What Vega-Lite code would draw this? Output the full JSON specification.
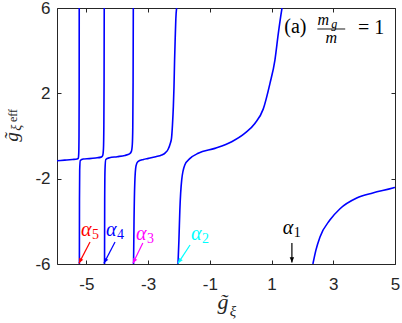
{
  "$schema": "https://vega.github.io/schema/vega-lite/v6.json",
  "width": 338,
  "height": 256,
  "autosize": {"type": "none"},
  "padding": {"left": 57, "top": 8, "right": 7, "bottom": 59},
  "background": "white",
  "config": {
    "view": {"stroke": "#262626", "strokeWidth": 1},
    "axis": {
      "domain": false,
      "grid": false,
      "tickColor": "#262626",
      "tickSize": -4,
      "tickWidth": 1,
      "labelFont": "Liberation Sans",
      "labelFontSize": 17,
      "labelColor": "#262626",
      "labelFlush": false,
      "labelOverlap": false,
      "title": null
    }
  },
  "datasets": {
    "curves": [
      {"b": "A", "x": -5.95, "y": -1.16}, {"b": "A", "x": -5.7, "y": -1.13}, {"b": "A", "x": -5.45, "y": -1.1}, {"b": "A", "x": -5.3, "y": -1.08}, {"b": "A", "x": -5.26, "y": -1.04}, {"b": "A", "x": -5.245, "y": -0.8}, {"b": "A", "x": -5.237, "y": 0}, {"b": "A", "x": -5.232, "y": 2}, {"b": "A", "x": -5.23, "y": 6},
      {"b": "B", "x": -5.225, "y": -6}, {"b": "B", "x": -5.222, "y": -3}, {"b": "B", "x": -5.215, "y": -1.6}, {"b": "B", "x": -5.195, "y": -1.15}, {"b": "B", "x": -5.1, "y": -1.08}, {"b": "B", "x": -4.9, "y": -1.06}, {"b": "B", "x": -4.7, "y": -1.03}, {"b": "B", "x": -4.52, "y": -0.99}, {"b": "B", "x": -4.47, "y": -0.92}, {"b": "B", "x": -4.445, "y": -0.6}, {"b": "B", "x": -4.432, "y": 0.5}, {"b": "B", "x": -4.425, "y": 2.5}, {"b": "B", "x": -4.42, "y": 6},
      {"b": "C", "x": -4.41, "y": -6}, {"b": "C", "x": -4.405, "y": -3}, {"b": "C", "x": -4.395, "y": -1.6}, {"b": "C", "x": -4.37, "y": -1.1}, {"b": "C", "x": -4.25, "y": -1.02}, {"b": "C", "x": -4.0, "y": -0.97}, {"b": "C", "x": -3.75, "y": -0.91}, {"b": "C", "x": -3.6, "y": -0.84}, {"b": "C", "x": -3.54, "y": -0.72}, {"b": "C", "x": -3.51, "y": -0.4}, {"b": "C", "x": -3.495, "y": 0.4}, {"b": "C", "x": -3.485, "y": 2.5}, {"b": "C", "x": -3.478, "y": 6},
      {"b": "D", "x": -3.47, "y": -6}, {"b": "D", "x": -3.455, "y": -4}, {"b": "D", "x": -3.43, "y": -2.2}, {"b": "D", "x": -3.39, "y": -1.4}, {"b": "D", "x": -3.33, "y": -1.2}, {"b": "D", "x": -3.15, "y": -1.1}, {"b": "D", "x": -2.99, "y": -1.05}, {"b": "D", "x": -2.75, "y": -0.97}, {"b": "D", "x": -2.56, "y": -0.89}, {"b": "D", "x": -2.45, "y": -0.8}, {"b": "D", "x": -2.35, "y": -0.62}, {"b": "D", "x": -2.28, "y": -0.35}, {"b": "D", "x": -2.24, "y": -0.1}, {"b": "D", "x": -2.21, "y": 0.5}, {"b": "D", "x": -2.18, "y": 1.4}, {"b": "D", "x": -2.16, "y": 2.3}, {"b": "D", "x": -2.14, "y": 3.6}, {"b": "D", "x": -2.12, "y": 4.6}, {"b": "D", "x": -2.1, "y": 5.5}, {"b": "D", "x": -2.075, "y": 6},
      {"b": "E", "x": -2.03, "y": -6}, {"b": "E", "x": -2.0, "y": -4.875}, {"b": "E", "x": -1.97, "y": -3.47}, {"b": "E", "x": -1.91, "y": -2.06}, {"b": "E", "x": -1.81, "y": -1.36}, {"b": "E", "x": -1.64, "y": -1.05}, {"b": "E", "x": -1.375, "y": -0.81}, {"b": "E", "x": -0.835, "y": -0.58}, {"b": "E", "x": -0.29, "y": -0.27}, {"b": "E", "x": 0.14, "y": 0.13}, {"b": "E", "x": 0.46, "y": 0.59}, {"b": "E", "x": 0.73, "y": 1.26}, {"b": "E", "x": 0.95, "y": 2.47}, {"b": "E", "x": 1.11, "y": 3.56}, {"b": "E", "x": 1.22, "y": 4.81}, {"b": "E", "x": 1.33, "y": 5.91}, {"b": "E", "x": 1.34, "y": 6},
      {"b": "F", "x": 2.34, "y": -6}, {"b": "F", "x": 2.44, "y": -5.34}, {"b": "F", "x": 2.57, "y": -4.73}, {"b": "F", "x": 2.89, "y": -3.94}, {"b": "F", "x": 3.21, "y": -3.42}, {"b": "F", "x": 3.76, "y": -2.91}, {"b": "F", "x": 4.28, "y": -2.67}, {"b": "F", "x": 4.93, "y": -2.44}, {"b": "F", "x": 5.0, "y": -2.41}
    ],
    "arrows": [
      {"a": "α5", "x": -4.88, "y": -4.97, "x2": -5.24, "y2": -5.97, "angle": 26.6},
      {"a": "α4", "x": -4.07, "y": -4.97, "x2": -4.43, "y2": -5.97, "angle": 27.6},
      {"a": "α3", "x": -3.17, "y": -5.02, "x2": -3.49, "y2": -5.97, "angle": 26.6},
      {"a": "α2", "x": -1.64, "y": -5.11, "x2": -2.03, "y2": -5.97, "angle": 33.7},
      {"a": "α1", "x": 1.66, "y": -5.02, "x2": 1.66, "y2": -5.93, "angle": 0}
    ],
    "alpha": [
      {"a": "α5", "x": -5.0, "y": -4.41, "t": "α"},
      {"a": "α4", "x": -4.19, "y": -4.41, "t": "α"},
      {"a": "α3", "x": -3.22, "y": -4.58, "t": "α"},
      {"a": "α2", "x": -1.44, "y": -4.58, "t": "α"},
      {"a": "α1", "x": 1.53, "y": -4.30, "t": "α"}
    ],
    "digits": [
      {"a": "α5", "x": -4.70, "y": -4.66, "t": "5"},
      {"a": "α4", "x": -3.89, "y": -4.66, "t": "4"},
      {"a": "α3", "x": -2.92, "y": -4.83, "t": "3"},
      {"a": "α2", "x": -1.14, "y": -4.83, "t": "2"},
      {"a": "α1", "x": 1.83, "y": -4.55, "t": "1"}
    ],
    "texts": [
      {"role": "panel", "x": 1.774, "y": 5.086, "t": "(a)"},
      {"role": "eq", "x": 4.226, "y": 5.06, "t": "= 1"},
      {"role": "m", "x": 2.677, "y": 5.44, "t": "m"},
      {"role": "m", "x": 2.935, "y": 4.594, "t": "m"},
      {"role": "sub", "x": 3.032, "y": 5.25, "t": "g"},
      {"role": "xg", "x": -0.575, "y": -7.78, "t": "g̃"},
      {"role": "xxi", "x": -0.25, "y": -8.2, "t": "ξ"},
      {"role": "yg", "x": -7.42, "y": -0.05, "t": "g̃"},
      {"role": "yxi", "x": -7.24, "y": 0.39, "t": "ξ"},
      {"role": "yeff", "x": -7.38, "y": 0.96, "t": "eff"}
    ],
    "frac": [
      {"x": 2.484, "x2": 3.387, "y": 5.016}
    ]
  },
  "layer": [
    {
      "data": {"name": "curves"},
      "mark": {"type": "line", "color": "#0000ff", "strokeWidth": 1.6, "interpolate": "monotone", "clip": true},
      "encoding": {
        "x": {"field": "x", "type": "quantitative", "scale": {"domain": [-5.95, 5], "nice": false, "zero": false},
              "axis": {"orient": "bottom", "values": [-5, -3, -1, 1, 3, 5], "labelPadding": 16, "labelExpr": "'' + datum.value"}},
        "y": {"field": "y", "type": "quantitative", "scale": {"domain": [-6, 6], "nice": false, "zero": false},
              "axis": {"orient": "left", "values": [-6, -2, 2, 6], "labelPadding": 11, "labelExpr": "'' + datum.value"}},
        "detail": {"field": "b"}
      }
    },
    {
      "data": {"name": "frac"},
      "mark": {"type": "rule", "color": "#000000", "strokeWidth": 0.9},
      "encoding": {
        "x": {"field": "x", "type": "quantitative", "axis": {"orient": "top", "values": [-5, -3, -1, 1, 3, 5], "labels": false}},
        "x2": {"field": "x2"},
        "y": {"field": "y", "type": "quantitative", "axis": {"orient": "right", "values": [-6, -2, 2, 6], "labels": false}}
      }
    },
    {
      "data": {"name": "arrows"},
      "mark": {"type": "rule", "strokeWidth": 1.2},
      "encoding": {
        "x": {"field": "x", "type": "quantitative", "axis": null},
        "y": {"field": "y", "type": "quantitative", "axis": null},
        "x2": {"field": "x2"},
        "y2": {"field": "y2"},
        "color": {"field": "a", "type": "nominal", "legend": null,
                  "scale": {"domain": ["α1", "α2", "α3", "α4", "α5"], "range": ["#000000", "#00ffff", "#ff00ff", "#0000ff", "#ff0000"]}}
      }
    },
    {
      "data": {"name": "arrows"},
      "mark": {"type": "point", "shape": "M0,0L-0.42,-1L0.42,-1Z", "filled": true, "size": 110, "opacity": 1, "strokeWidth": 0},
      "encoding": {
        "x": {"field": "x2", "type": "quantitative", "axis": null},
        "y": {"field": "y2", "type": "quantitative", "axis": null},
        "angle": {"field": "angle", "type": "quantitative", "scale": null},
        "color": {"field": "a", "type": "nominal", "legend": null}
      }
    },
    {
      "data": {"name": "alpha"},
      "mark": {"type": "text", "font": "Liberation Serif", "fontStyle": "italic", "fontSize": 20, "align": "center", "baseline": "middle"},
      "encoding": {
        "x": {"field": "x", "type": "quantitative", "axis": null},
        "y": {"field": "y", "type": "quantitative", "axis": null},
        "text": {"field": "t"},
        "color": {"field": "a", "type": "nominal", "legend": null}
      }
    },
    {
      "data": {"name": "digits"},
      "mark": {"type": "text", "font": "Liberation Serif", "fontSize": 14, "align": "center", "baseline": "middle"},
      "encoding": {
        "x": {"field": "x", "type": "quantitative", "axis": null},
        "y": {"field": "y", "type": "quantitative", "axis": null},
        "text": {"field": "t"},
        "color": {"field": "a", "type": "nominal", "legend": null}
      }
    },
    {
      "data": {"name": "texts"},
      "transform": [{"filter": "datum.role === 'panel' || datum.role === 'eq'"}],
      "mark": {"type": "text", "font": "Liberation Serif", "fontSize": 20, "align": "center", "baseline": "middle", "color": "#000000"},
      "encoding": {"x": {"field": "x", "type": "quantitative", "axis": null}, "y": {"field": "y", "type": "quantitative", "axis": null}, "text": {"field": "t"}}
    },
    {
      "data": {"name": "texts"},
      "transform": [{"filter": "datum.role === 'm'"}],
      "mark": {"type": "text", "font": "Liberation Serif", "fontStyle": "italic", "fontSize": 16, "align": "center", "baseline": "middle", "color": "#000000"},
      "encoding": {"x": {"field": "x", "type": "quantitative", "axis": null}, "y": {"field": "y", "type": "quantitative", "axis": null}, "text": {"field": "t"}}
    },
    {
      "data": {"name": "texts"},
      "transform": [{"filter": "datum.role === 'sub'"}],
      "mark": {"type": "text", "font": "Liberation Serif", "fontStyle": "italic", "fontSize": 12, "align": "center", "baseline": "middle", "color": "#000000"},
      "encoding": {"x": {"field": "x", "type": "quantitative", "axis": null}, "y": {"field": "y", "type": "quantitative", "axis": null}, "text": {"field": "t"}}
    },
    {
      "data": {"name": "texts"},
      "transform": [{"filter": "datum.role === 'xg'"}],
      "mark": {"type": "text", "font": "Liberation Serif", "fontStyle": "italic", "fontSize": 22, "align": "center", "baseline": "middle", "color": "#262626"},
      "encoding": {"x": {"field": "x", "type": "quantitative", "axis": null}, "y": {"field": "y", "type": "quantitative", "axis": null}, "text": {"field": "t"}}
    },
    {
      "data": {"name": "texts"},
      "transform": [{"filter": "datum.role === 'xxi'"}],
      "mark": {"type": "text", "font": "Liberation Serif", "fontStyle": "italic", "fontSize": 15, "align": "center", "baseline": "middle", "color": "#262626"},
      "encoding": {"x": {"field": "x", "type": "quantitative", "axis": null}, "y": {"field": "y", "type": "quantitative", "axis": null}, "text": {"field": "t"}}
    },
    {
      "data": {"name": "texts"},
      "transform": [{"filter": "datum.role === 'yg'"}],
      "mark": {"type": "text", "font": "Liberation Serif", "fontStyle": "italic", "fontSize": 19, "angle": 270, "align": "center", "baseline": "middle", "color": "#262626"},
      "encoding": {"x": {"field": "x", "type": "quantitative", "axis": null}, "y": {"field": "y", "type": "quantitative", "axis": null}, "text": {"field": "t"}}
    },
    {
      "data": {"name": "texts"},
      "transform": [{"filter": "datum.role === 'yxi'"}],
      "mark": {"type": "text", "font": "Liberation Serif", "fontStyle": "italic", "fontSize": 14, "angle": 270, "align": "center", "baseline": "middle", "color": "#262626"},
      "encoding": {"x": {"field": "x", "type": "quantitative", "axis": null}, "y": {"field": "y", "type": "quantitative", "axis": null}, "text": {"field": "t"}}
    },
    {
      "data": {"name": "texts"},
      "transform": [{"filter": "datum.role === 'yeff'"}],
      "mark": {"type": "text", "font": "Liberation Serif", "fontSize": 12, "angle": 270, "align": "center", "baseline": "middle", "color": "#262626"},
      "encoding": {"x": {"field": "x", "type": "quantitative", "axis": null}, "y": {"field": "y", "type": "quantitative", "axis": null}, "text": {"field": "t"}}
    }
  ]
}
